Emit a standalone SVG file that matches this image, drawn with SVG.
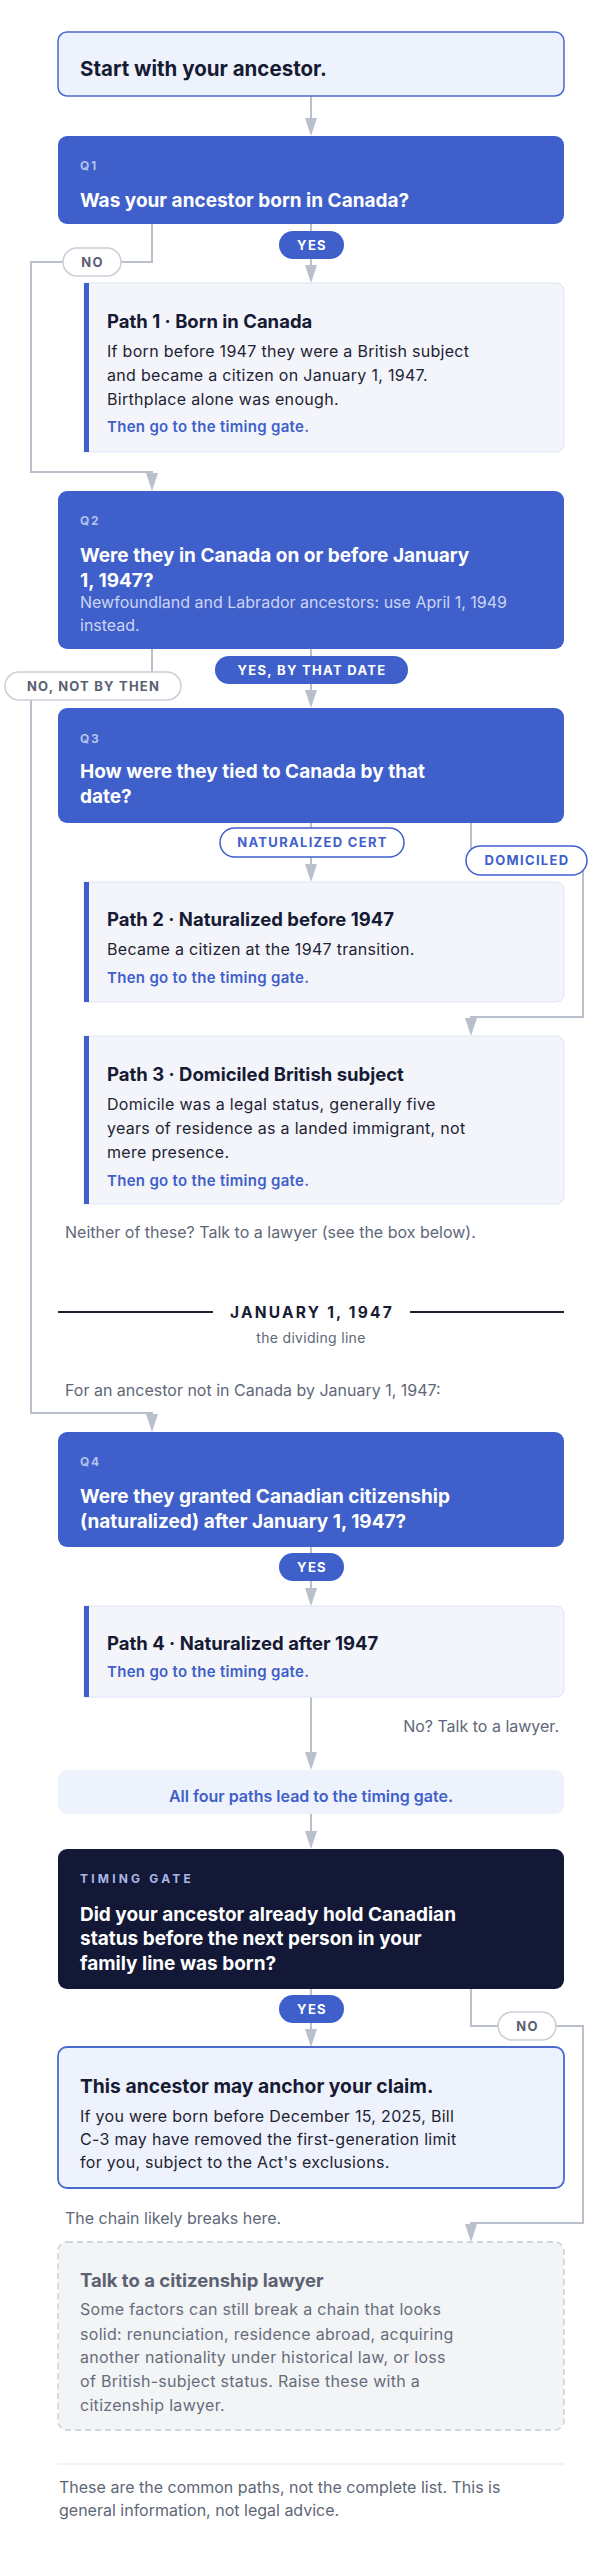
<svg xmlns="http://www.w3.org/2000/svg" width="593" height="2560" viewBox="0 0 593 2560">
<style>
text{font-family:Inter,"Liberation Sans",sans-serif}
.conn{fill:none;stroke:#B9C0CC;stroke-width:2;marker-end:url(#arr)}
.qbox{fill:#3F5FCA}
.qlab{font-size:12px;font-weight:700;fill:#B4C2EF;letter-spacing:1.6px}
.qtxt{font-size:19px;font-weight:700;fill:#FFFFFF}
.qsub{font-size:16px;font-weight:400;fill:#CBD5F5}
.card{fill:#F3F5FB;stroke:#DCE3F4;stroke-width:1}
.bar{fill:#3F5FCA}
.ctitle{font-size:18.5px;font-weight:700;fill:#161B33}
.cbody{font-size:16px;font-weight:400;fill:#1E2333;letter-spacing:0.3px}
.clink{font-size:15px;font-weight:600;fill:#3F5FCA;letter-spacing:0.3px}
.pb{fill:#3F5FCA}
.pbt{font-size:13px;font-weight:700;fill:#FFFFFF;letter-spacing:1.3px;text-anchor:middle}
.po{fill:#FFFFFF;stroke:#C9CED7;stroke-width:1.5}
.pot{font-size:13px;font-weight:700;fill:#596070;letter-spacing:1.2px;text-anchor:middle}
.pob{fill:#FFFFFF;stroke:#3F5FCA;stroke-width:1.5}
.pobt{font-size:13px;font-weight:700;fill:#3F5FCA;letter-spacing:1.3px;text-anchor:middle}
.note{font-size:16px;font-weight:400;fill:#606777}
.lbody{font-size:16px;font-weight:400;fill:#666D7C;letter-spacing:0.3px}
.light{fill:#EEF2FC}
</style>
<defs>
<marker id="arr" viewBox="0 0 18 12" refX="0" refY="6" markerWidth="18" markerHeight="12" markerUnits="userSpaceOnUse" orient="auto">
<path d="M0,0 L18,6 L0,12 Z" fill="#B9C0CC"/>
</marker>
</defs>
<rect width="593" height="2560" fill="#FFFFFF"/>

<g id="connectors">
<path class="conn" d="M311,96 V118"/>
<path class="conn" d="M311,224 V265"/>
<path class="conn" d="M152,224 V262 H31 V472 H152 V473"/>
<path class="conn" d="M311,649 V690"/>
<path class="conn" d="M152,649 V686 H31 V1413 H152 V1414"/>
<path class="conn" d="M311,823 V864"/>
<path class="conn" d="M471,823 V860 H583 V1017 H471 V1018"/>
<path class="conn" d="M311,1547 V1588"/>
<path class="conn" d="M311,1697 V1752"/>
<path class="conn" d="M311,1814 V1831"/>
<path class="conn" d="M311,1989 V2029"/>
<path class="conn" d="M471,1989 V2026 H583 V2223 H471 V2224"/>
<g id="lbl-q1-yes"><rect class="pb" x="279" y="231" width="65" height="28" rx="14"/><text class="pbt" x="312" y="249.5">YES</text></g>
<g id="lbl-q1-no"><rect class="po" x="63" y="248" width="58" height="28" rx="14"/><text class="pot" x="92.5" y="266.5">NO</text></g>
<g id="lbl-q2-yes"><rect class="pb" x="215" y="656" width="193" height="28" rx="14"/><text class="pbt" x="312" y="674.5">YES, BY THAT DATE</text></g>
<g id="lbl-q2-no"><rect class="po" x="5" y="672" width="176" height="28" rx="14"/><text class="pot" x="93.5" y="690.5">NO, NOT BY THEN</text></g>
<g id="lbl-q3-nat"><rect class="pob" x="220" y="828" width="184" height="29" rx="14.5"/><text class="pobt" x="312.5" y="847">NATURALIZED CERT</text></g>
<g id="lbl-q3-dom"><rect class="pob" x="466" y="846" width="121" height="29" rx="14.5"/><text class="pobt" x="527" y="865">DOMICILED</text></g>
<g id="lbl-q4-yes"><rect class="pb" x="279" y="1553" width="65" height="28" rx="14"/><text class="pbt" x="312" y="1571.5">YES</text></g>
<g id="lbl-tg-yes"><rect class="pb" x="279" y="1995" width="65" height="28" rx="14"/><text class="pbt" x="312" y="2013.5">YES</text></g>
<g id="lbl-tg-no"><rect class="po" x="498" y="2012" width="58" height="28" rx="14"/><text class="pot" x="527.5" y="2030.5">NO</text></g>
</g>

<g id="start">
<rect x="58" y="32" width="506" height="64" rx="9" fill="#EEF2FC" stroke="#4A6AD0" stroke-width="1.5"/>
<text x="80" y="76" font-size="20.5" font-weight="700" fill="#161B33">Start with your ancestor.</text>
</g>

<g id="q1">
<rect class="qbox" x="58" y="136" width="506" height="88" rx="9"/>
<text class="qlab" x="80" y="170">Q1</text>
<text class="qtxt" x="80" y="207">Was your ancestor born in Canada?</text>
</g>

<g id="path1">
<path class="card" d="M84,283 H556 A8,8 0 0 1 564,291 V444 A8,8 0 0 1 556,452 H84 Z"/>
<rect class="bar" x="84" y="283" width="5" height="169"/>
<text class="ctitle" x="107" y="328">Path 1 · Born in Canada</text>
<text class="cbody" x="107" y="357">If born before 1947 they were a British subject</text>
<text class="cbody" x="107" y="381">and became a citizen on January 1, 1947.</text>
<text class="cbody" x="107" y="405">Birthplace alone was enough.</text>
<text class="clink" x="107" y="432">Then go to the timing gate.</text>
</g>

<g id="q2">
<rect class="qbox" x="58" y="491" width="506" height="158" rx="9"/>
<text class="qlab" x="80" y="525">Q2</text>
<text class="qtxt" x="80" y="562">Were they in Canada on or before January</text>
<text class="qtxt" x="80" y="587">1, 1947?</text>
<text class="qsub" x="80" y="608">Newfoundland and Labrador ancestors: use April 1, 1949</text>
<text class="qsub" x="80" y="631">instead.</text>
</g>

<g id="q3">
<rect class="qbox" x="58" y="708" width="506" height="115" rx="9"/>
<text class="qlab" x="80" y="743">Q3</text>
<text class="qtxt" x="80" y="778">How were they tied to Canada by that</text>
<text class="qtxt" x="80" y="803">date?</text>
</g>

<g id="path2">
<path class="card" d="M84,882 H556 A8,8 0 0 1 564,890 V994 A8,8 0 0 1 556,1002 H84 Z"/>
<rect class="bar" x="84" y="882" width="5" height="120"/>
<text class="ctitle" x="107" y="926">Path 2 · Naturalized before 1947</text>
<text class="cbody" x="107" y="955">Became a citizen at the 1947 transition.</text>
<text class="clink" x="107" y="983">Then go to the timing gate.</text>
</g>

<g id="path3">
<path class="card" d="M84,1036 H556 A8,8 0 0 1 564,1044 V1196 A8,8 0 0 1 556,1204 H84 Z"/>
<rect class="bar" x="84" y="1036" width="5" height="168"/>
<text class="ctitle" x="107" y="1081">Path 3 · Domiciled British subject</text>
<text class="cbody" x="107" y="1110">Domicile was a legal status, generally five</text>
<text class="cbody" x="107" y="1134">years of residence as a landed immigrant, not</text>
<text class="cbody" x="107" y="1158">mere presence.</text>
<text class="clink" x="107" y="1186">Then go to the timing gate.</text>
</g>

<g id="note-neither">
<text class="note" x="65" y="1238">Neither of these? Talk to a lawyer (see the box below).</text>
</g>

<g id="divider">
<line x1="58" y1="1312" x2="213" y2="1312" stroke="#1F2433" stroke-width="2"/>
<line x1="410" y1="1312" x2="564" y2="1312" stroke="#1F2433" stroke-width="2"/>
<text x="312" y="1318" font-size="15.5" font-weight="700" fill="#161B33" letter-spacing="2.2" text-anchor="middle">JANUARY 1, 1947</text>
<text x="311" y="1343" font-size="14" fill="#606777" letter-spacing="0.3" text-anchor="middle">the dividing line</text>
</g>

<g id="note-after">
<text class="note" x="65" y="1396">For an ancestor not in Canada by January 1, 1947:</text>
</g>

<g id="q4">
<rect class="qbox" x="58" y="1432" width="506" height="115" rx="9"/>
<text class="qlab" x="80" y="1466">Q4</text>
<text class="qtxt" x="80" y="1503">Were they granted Canadian citizenship</text>
<text class="qtxt" x="80" y="1528">(naturalized) after January 1, 1947?</text>
</g>

<g id="path4">
<path class="card" d="M84,1606 H556 A8,8 0 0 1 564,1614 V1689 A8,8 0 0 1 556,1697 H84 Z"/>
<rect class="bar" x="84" y="1606" width="5" height="91"/>
<text class="ctitle" x="107" y="1650">Path 4 · Naturalized after 1947</text>
<text class="clink" x="107" y="1677">Then go to the timing gate.</text>
</g>

<g id="note-no-lawyer">
<text class="note" x="559" y="1732" text-anchor="end">No? Talk to a lawyer.</text>
</g>

<g id="all-four">
<rect class="light" x="58" y="1770" width="506" height="44" rx="9"/>
<text x="311" y="1802" font-size="16" font-weight="600" fill="#3F5FCA" text-anchor="middle">All four paths lead to the timing gate.</text>
</g>

<g id="timing-gate">
<rect x="58" y="1849" width="506" height="140" rx="9" fill="#131836"/>
<text x="80" y="1883" font-size="12" font-weight="700" fill="#A9B6E8" letter-spacing="3.2">TIMING GATE</text>
<text class="qtxt" x="80" y="1921">Did your ancestor already hold Canadian</text>
<text class="qtxt" x="80" y="1945">status before the next person in your</text>
<text class="qtxt" x="80" y="1970">family line was born?</text>
</g>

<g id="anchor">
<rect x="58" y="2047" width="506" height="141" rx="9" fill="#EEF2FC" stroke="#4A6AD0" stroke-width="1.8"/>
<text x="80" y="2093" font-size="19.3" font-weight="700" fill="#161B33">This ancestor may anchor your claim.</text>
<text class="cbody" x="80" y="2122">If you were born before December 15, 2025, Bill</text>
<text class="cbody" x="80" y="2145">C-3 may have removed the first-generation limit</text>
<text class="cbody" x="80" y="2168">for you, subject to the Act's exclusions.</text>
</g>

<g id="note-chain">
<text class="note" x="65" y="2224">The chain likely breaks here.</text>
</g>

<g id="lawyer">
<rect x="58" y="2242" width="506" height="188" rx="9" fill="#F3F4F6" stroke="#C5CAD3" stroke-width="1.3" stroke-dasharray="6 4"/>
<text x="80" y="2287" font-size="18.5" font-weight="700" fill="#5B6272">Talk to a citizenship lawyer</text>
<text class="lbody" x="80" y="2315">Some factors can still break a chain that looks</text>
<text class="lbody" x="80" y="2340">solid: renunciation, residence abroad, acquiring</text>
<text class="lbody" x="80" y="2363">another nationality under historical law, or loss</text>
<text class="lbody" x="80" y="2387">of British-subject status. Raise these with a</text>
<text class="lbody" x="80" y="2411">citizenship lawyer.</text>
</g>

<g id="footer">
<line x1="58" y1="2464" x2="564" y2="2464" stroke="#E4E7EC" stroke-width="1"/>
<text x="59" y="2493" font-size="16" fill="#606777">These are the common paths, not the complete list. This is</text>
<text x="59" y="2516" font-size="16" fill="#606777">general information, not legal advice.</text>
</g>
</svg>
